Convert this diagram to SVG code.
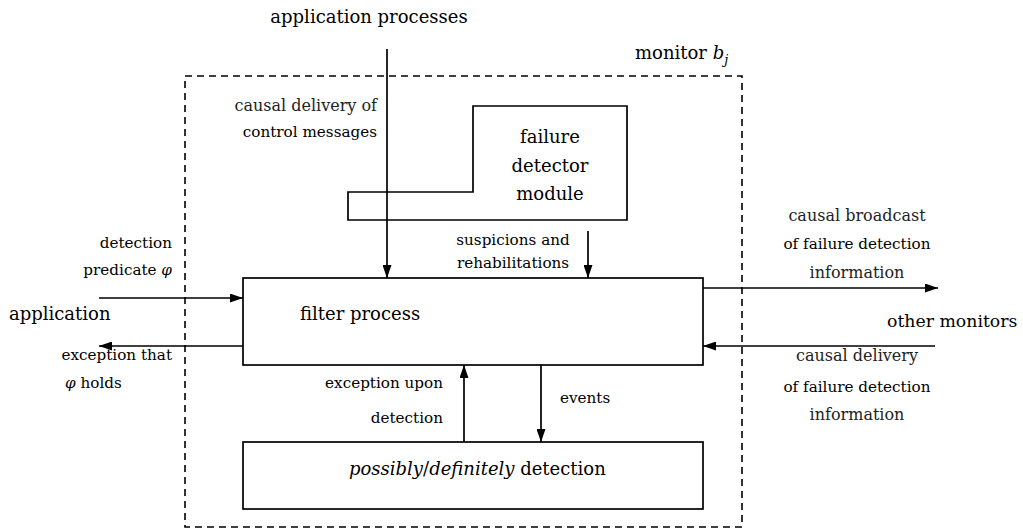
<svg xmlns="http://www.w3.org/2000/svg" width="1023" height="529" viewBox="0 0 1023 529" font-family="DejaVu Serif, serif">
<style>
  .box { fill: none; stroke: #000; stroke-width: 1.7; }
  .dash { fill: none; stroke: #000; stroke-width: 1.6; stroke-dasharray: 7 5; }
  .conn { fill: none; stroke: #000; stroke-width: 1.7; marker-end: url(#arrow); }
  .big { font-size: 18px; }
  .small { font-size: 15.2px; }
  .cm { font-size: 16px; fill: #222; }
  .end { text-anchor: end; }
  .mid { text-anchor: middle; }
</style>
<defs>
  <marker id="arrow" markerUnits="userSpaceOnUse" markerWidth="13" markerHeight="9" refX="13" refY="4.5" orient="auto">
    <path d="M0,0 L13,4.5 L0,9 z" fill="#000"/>
  </marker>
</defs>
<rect width="1023" height="529" fill="#fff"/>

<g id="monitor">
  <rect class="dash" x="185" y="76" width="557" height="451"/>
  <text class="big" x="635" y="59">monitor <tspan font-style="italic">b</tspan><tspan font-style="italic" font-size="13" dy="5">j</tspan></text>
</g>

<g id="failure-detector">
  <path class="box" d="M473,106 L627,106 L627,220 L348,220 L348,192 L473,192 Z"/>
  <text class="big mid" x="550" y="143">failure</text>
  <text class="big mid" x="550" y="172">detector</text>
  <text class="big mid" x="550" y="200">module</text>
</g>

<g id="filter-process">
  <rect class="box" x="243" y="278" width="460" height="87"/>
  <text class="big" x="300" y="320">filter process</text>
</g>

<g id="detection">
  <rect class="box" x="243" y="442" width="460" height="67"/>
  <text class="big" x="349" y="475"><tspan font-style="italic">possibly</tspan>/<tspan font-style="italic">definitely</tspan> detection</text>
</g>

<g id="application-processes">
  <text class="big mid" x="369" y="23">application processes</text>
</g>

<g id="application">
  <text class="big" x="9" y="320">application</text>
</g>

<g id="other-monitors">
  <text x="887" y="327" style="font-size:17.3px">other monitors</text>
</g>

<g id="connectors">
  <line class="conn" x1="387" y1="49" x2="387" y2="278"/>
  <line class="conn" x1="588" y1="231" x2="588" y2="278"/>
  <line class="conn" x1="99" y1="298" x2="243" y2="298"/>
  <line class="conn" x1="243" y1="346" x2="99" y2="346"/>
  <line class="conn" x1="703" y1="288" x2="938" y2="288"/>
  <line class="conn" x1="935" y1="346" x2="703" y2="346"/>
  <line class="conn" x1="464" y1="442" x2="464" y2="365"/>
  <line class="conn" x1="541" y1="365" x2="541" y2="442"/>
</g>

<g id="labels">
  <text class="cm end" x="377" y="111">causal delivery of</text>
  <text class="small end" x="377" y="137">control messages</text>
  <text class="small mid" x="513" y="245">suspicions and</text>
  <text class="small mid" x="513" y="268">rehabilitations</text>
  <text class="small end" x="172" y="248">detection</text>
  <text class="small end" x="172" y="275">predicate <tspan font-style="italic">φ</tspan></text>
  <text class="small end" x="172" y="360">exception that</text>
  <text class="small" x="65" y="388"><tspan font-style="italic">φ</tspan> holds</text>
  <text class="cm mid" x="857" y="221">causal broadcast</text>
  <text class="small mid" x="857" y="249">of failure detection</text>
  <text class="cm mid" x="857" y="278">information</text>
  <text class="cm mid" x="857" y="361">causal delivery</text>
  <text class="small mid" x="857" y="392">of failure detection</text>
  <text class="cm mid" x="857" y="420">information</text>
  <text class="small end" x="443" y="388">exception upon</text>
  <text class="small end" x="443" y="423">detection</text>
  <text class="small" x="560" y="403">events</text>
</g>
</svg>
